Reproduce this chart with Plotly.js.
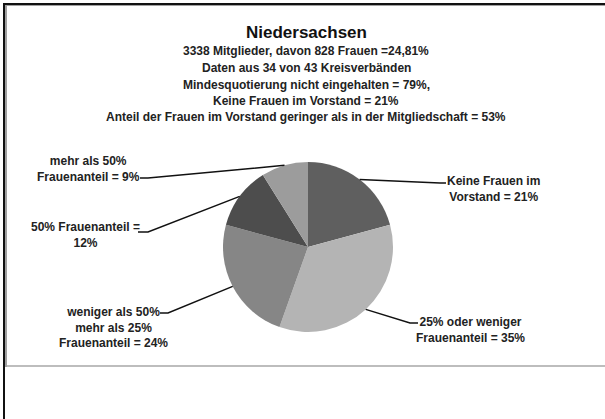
<!DOCTYPE html>
<html>
<head>
<meta charset="utf-8">
<script src="https://cdn.plot.ly/plotly-3.0.1.min.js"></script>
<style>
html,body{margin:0;padding:0;background:#fff;overflow:hidden;}
#wrap{position:relative;width:605px;height:419px;}
#chart{position:absolute;left:0;top:0;width:605px;height:419px;}
.fr{position:absolute;pointer-events:none;}
</style>
</head>
<body>
<div id="wrap">
<div id="chart"></div>
<div class="fr" style="left:3px;top:3px;width:2px;height:416px;background:#111;"></div>
<div class="fr" style="left:3px;top:3px;width:602px;height:2px;background:#111;"></div>
<div class="fr" style="left:5px;top:5px;width:2px;height:362px;background:#a0a0a0;"></div>
<div class="fr" style="left:5px;top:5px;width:600px;height:1px;background:#a0a0a0;"></div>
<div class="fr" style="left:7px;top:365px;width:598px;height:2px;background:#bdbdbd;"></div>
</div>
<script>
// ---- data ----
const categories = [
  "Keine Frauen im Vorstand",
  "25% oder weniger Frauenanteil",
  "weniger als 50% mehr als 25% Frauenanteil",
  "50% Frauenanteil",
  "mehr als 50% Frauenanteil"
];
const values = [21, 35, 24, 12, 9];
const labelTexts = [
  "Keine Frauen im<br>Vorstand = 21%",
  "25% oder weniger<br>Frauenanteil = 35%",
  "weniger als 50%<br>mehr als 25%<br>Frauenanteil = 24%",
  "50% Frauenanteil =<br>12%",
  "mehr als 50%<br>Frauenanteil = 9%"
];
const titleText = "Niedersachsen";
const subtitleLines = [
  "3338 Mitglieder, davon 828 Frauen =24,81%",
  "Daten aus 34 von 43 Kreisverbänden",
  "Mindesquotierung nicht eingehalten = 79%,",
  "Keine Frauen im Vorstand = 21%",
  "Anteil der Frauen im Vorstand geringer als in der Mitgliedschaft = 53%"
];

// ---- styling / layout ----
const W = 605, H = 419;
const sliceColors = ["#5f5f5f", "#b4b4b4", "#868686", "#4d4d4d", "#9c9c9c"];
const cx = 308, cy = 247, R = 85;
const font = "Liberation Sans, Arial, sans-serif";
const textColor = "#222";
const labelPos = [
  {x: 493, y: 189, elbow: [440, 183], end: [446, 183]},
  {x: 470, y: 330, elbow: [410, 323], end: [418, 323]},
  {x: 113, y: 327, elbow: [168, 313], end: [160, 313]},
  {x: 85,  y: 235, elbow: [148, 232], end: [138, 232]},
  {x: 88,  y: 169, elbow: [148, 178], end: [140, 178]}
];
const px = x => x / W;
const py = y => 1 - y / H;

const total = values.reduce((a, b) => a + b, 0);
let cum = 0;
const shapes = [];
const annotations = [];
values.forEach((v, i) => {
  const mid = (cum + v / 2) / total * 2 * Math.PI;
  cum += v;
  const ex = cx + R * Math.sin(mid), ey = cy - R * Math.cos(mid);
  const lp = labelPos[i];
  shapes.push({
    type: "path", xref: "paper", yref: "paper",
    path: `M ${px(ex)} ${py(ey)} L ${px(lp.elbow[0])} ${py(lp.elbow[1])} L ${px(lp.end[0])} ${py(lp.end[1])}`,
    line: {color: "#111", width: 1.5}
  });
  annotations.push({
    xref: "paper", yref: "paper", x: px(lp.x), y: py(lp.y),
    xanchor: "center", yanchor: "middle", showarrow: false, align: "center",
    text: "<b>" + labelTexts[i].split("<br>").join("</b><br><b>") + "</b>",
    font: {family: font, size: 12, color: textColor}
  });
});

annotations.push({
  xref: "paper", yref: "paper", x: px(306), y: py(33), xanchor: "center", yanchor: "middle",
  showarrow: false, text: "<b>" + titleText + "</b>", font: {family: font, size: 17, color: "#111"}
});
const subY = [51, 68, 85, 101, 117];
subtitleLines.forEach((t, i) => {
  annotations.push({
    xref: "paper", yref: "paper", x: px(306), y: py(subY[i]), xanchor: "center", yanchor: "middle",
    showarrow: false, text: "<b>" + t + "</b>", font: {family: font, size: 12, color: textColor}
  });
});

const trace = {
  type: "pie",
  labels: categories,
  values: values,
  sort: false,
  direction: "clockwise",
  rotation: 0,
  textinfo: "none",
  hoverinfo: "label+percent",
  marker: {colors: sliceColors, line: {width: 0}},
  domain: {x: [px(cx - R), px(cx + R)], y: [py(cy + R), py(cy - R)]}
};

Plotly.newPlot("chart", [trace], {
  width: W, height: H,
  margin: {l: 0, r: 0, t: 0, b: 0},
  showlegend: false,
  paper_bgcolor: "#fff",
  shapes: shapes,
  annotations: annotations
}, {staticPlot: true});
</script>
</body>
</html>
